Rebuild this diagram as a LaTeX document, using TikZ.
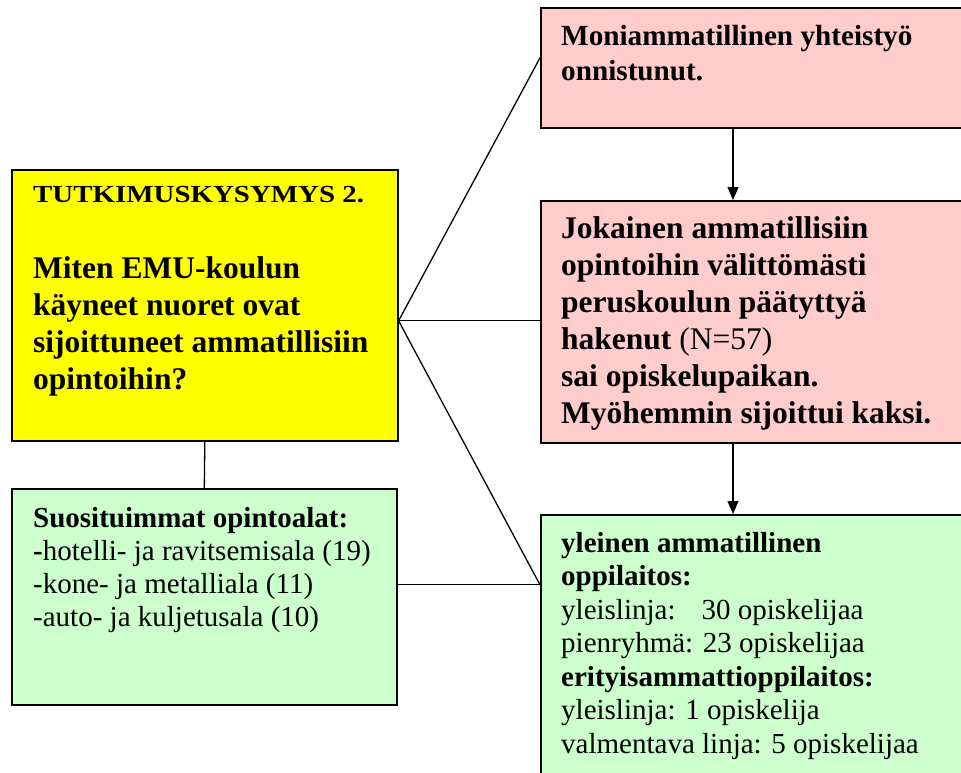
\documentclass[tikz,border=0pt]{standalone}
\usepackage{fontspec}
\setmainfont{Liberation Serif}
\newfontfamily\otsikkofont{Liberation Serif}[FakeStretch=1.18]
\usetikzlibrary{arrows.meta,positioning,calc}

\definecolor{kyskelta}{RGB}{255,255,0}
\definecolor{tulospun}{RGB}{255,204,204}
\definecolor{alavihr}{RGB}{204,255,204}

% rivit ylhäältä alas, peruslinja = ensimmäinen rivi
\newcommand{\rivit}[1]{\begin{tabular}[t]{@{}l@{}}#1\end{tabular}}

\tikzset{
  laatikko/.style={draw, line width=1.6pt, anchor=north west, inner sep=0pt},
  teksti/.style={anchor=base west, inner sep=0pt},
  viiva/.style={line width=1.3pt},
  nuoli/.style={line width=1.3pt, -{Triangle[length=13pt,width=11pt]}}
}

\begin{document}
\begin{tikzpicture}[x=1pt,y=-1pt]
\useasboundingbox (0,0) rectangle (961,773);

% laatikot
\node[laatikko, fill=kyskelta, minimum width=386pt, minimum height=271pt] (kys) at (11,169) {};
\node[laatikko, fill=tulospun, minimum width=440pt, minimum height=120pt] (moni) at (540,7) {};
\node[laatikko, fill=tulospun, minimum width=440pt, minimum height=242pt] (joka) at (540,200) {};
\node[laatikko, fill=alavihr, minimum width=385pt, minimum height=216pt] (alat) at (11,488) {};
\node[laatikko, fill=alavihr, minimum width=440pt, minimum height=280pt] (oppi) at (540,514) {};

% tekstit
\node[teksti, font=\otsikkofont\bfseries\fontsize{24.5}{28}\selectfont] (otsikko) at (33,202)
  {TUTKIMUSKYSYMYS 2.};
\node[teksti, font=\bfseries\fontsize{31.5}{37}\selectfont] (kysymys) at (33,278)
  {\rivit{Miten EMU-koulun\\ käyneet nuoret ovat\\ sijoittuneet ammatillisiin\\ opintoihin?}};
\node[teksti, font=\bfseries\fontsize{29.2}{34.5}\selectfont] (monit) at (561,46)
  {\rivit{Moniammatillinen yhteistyö\\ onnistunut.}};
\node[teksti, font=\bfseries\fontsize{31.5}{37}\selectfont] (jokat) at (561,238)
  {\rivit{Jokainen ammatillisiin\\ opintoihin välittömästi\\ peruskoulun päätyttyä\\
   hakenut {\mdseries(N=57)}\\ sai opiskelupaikan.\\ Myöhemmin sijoittui kaksi.}};
\node[teksti, font=\fontsize{29}{33.3}\selectfont] (alatt) at (33,527)
  {\rivit{\textbf{Suosituimmat opintoalat:}\\ \textbf{-}hotelli- ja ravitsemisala (19)\\
   -kone- ja metalliala (11)\\ -auto- ja kuljetusala (10)}};
\node[teksti, font=\fontsize{29}{33.5}\selectfont] (oppit) at (561,552)
  {\rivit{\textbf{yleinen ammatillinen}\\ \textbf{oppilaitos:}\\ yleislinja:\hspace{26pt}30 opiskelijaa\\
   pienryhmä: 23 opiskelijaa\\ \textbf{erityisammattioppilaitos:}\\ yleislinja: 1 opiskelija\\
   valmentava linja: 5 opiskelijaa}};

% yhteydet
\coordinate (haara) at ([yshift=-15.5pt]kys.east);
\coordinate (akseli) at (733,0);
\coordinate (alaliitos) at ([yshift=12pt]alat.east);
\draw[viiva] (haara) -- ([yshift=10pt]moni.west);
\draw[viiva] (haara) -- (haara -| joka.west);
\draw[viiva] (haara) -- (alaliitos -| oppi.west);
\draw[viiva] (alaliitos) -- (alaliitos -| oppi.west);
\draw[viiva] (kys.south) -- (alat.north);
\draw[nuoli] (moni.south -| akseli) -- (joka.north -| akseli);
\draw[nuoli] (joka.south -| akseli) -- (oppi.north -| akseli);
\end{tikzpicture}
\end{document}
